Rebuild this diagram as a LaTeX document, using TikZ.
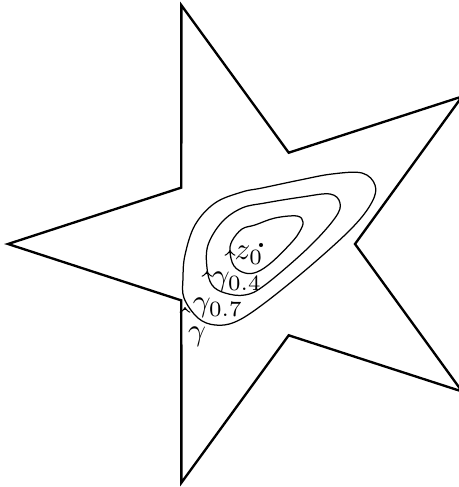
\documentclass[tikz,border=0pt]{standalone}
\begin{document}
\begin{tikzpicture}[x=0.32pt,y=-0.32pt,
  starline/.style={line width=0.75pt, line join=miter},
  level/.style={line width=0.4pt},
  tipmark/.style={line width=0.4pt, -to},
  lbl/.style={inner sep=0pt}]
\useasboundingbox (0,0) rectangle (459,487);
% star domain
\draw[starline] (181.4,5.3) -- (288.7,152.7) -- (462.1,96.5) -- (355,244)
  -- (462.1,391.5) -- (288.7,335.3) -- (181.4,482.7) -- (181.3,300.4)
  -- (8,244) -- (181.3,187.6) -- cycle;
% level curves
\draw[level] plot[smooth cycle, tension=0.6] coordinates {
  (230,252) (232,241) (242,229) (255,225) (275,218) (297,216) (303,222)
  (300,231) (292,242) (272,262) (257,272) (245,273) (234,266)};
\draw[level] plot[smooth cycle, tension=0.6] coordinates {
  (207,268) (208,245) (222,222) (242,208) (265,203) (302,197) (330,194)
  (340,203) (335,218) (308,248) (265,285) (245,295) (225,293) (212,285)};
\draw[level] plot[smooth cycle, tension=0.6] coordinates {
  (184,298) (183,278) (185,255) (195,225) (215,203) (242,192) (262,188)
  (300,180) (332,174) (362,173) (375,185) (372,202) (352,228) (308,268)
  (262,305) (235,322) (215,325) (198,318)};
% orientation marks
\coordinate (m1) at (230,250);
\coordinate (m2) at (207,271);
\coordinate (m3) at (185,307);
\draw[tipmark] ([yshift=-1pt]m1) -- (m1);
\draw[tipmark] ([yshift=-1pt]m2) -- (m2);
\draw[tipmark] ([yshift=-1pt]m3) -- (m3);
% point and labels
\node[circle, fill, inner sep=0pt, minimum size=1.3pt] (z0) at (261,245) {};
\node[lbl] (z0lab) at (249,255) {$z_0$};
\node[lbl] (g04) at (237,282) {$\gamma_{0.4}$};
\node[lbl] (g07) at (218,308) {$\gamma_{0.7}$};
\node[lbl] (g) at (197,337) {$\gamma$};
\end{tikzpicture}
\end{document}
